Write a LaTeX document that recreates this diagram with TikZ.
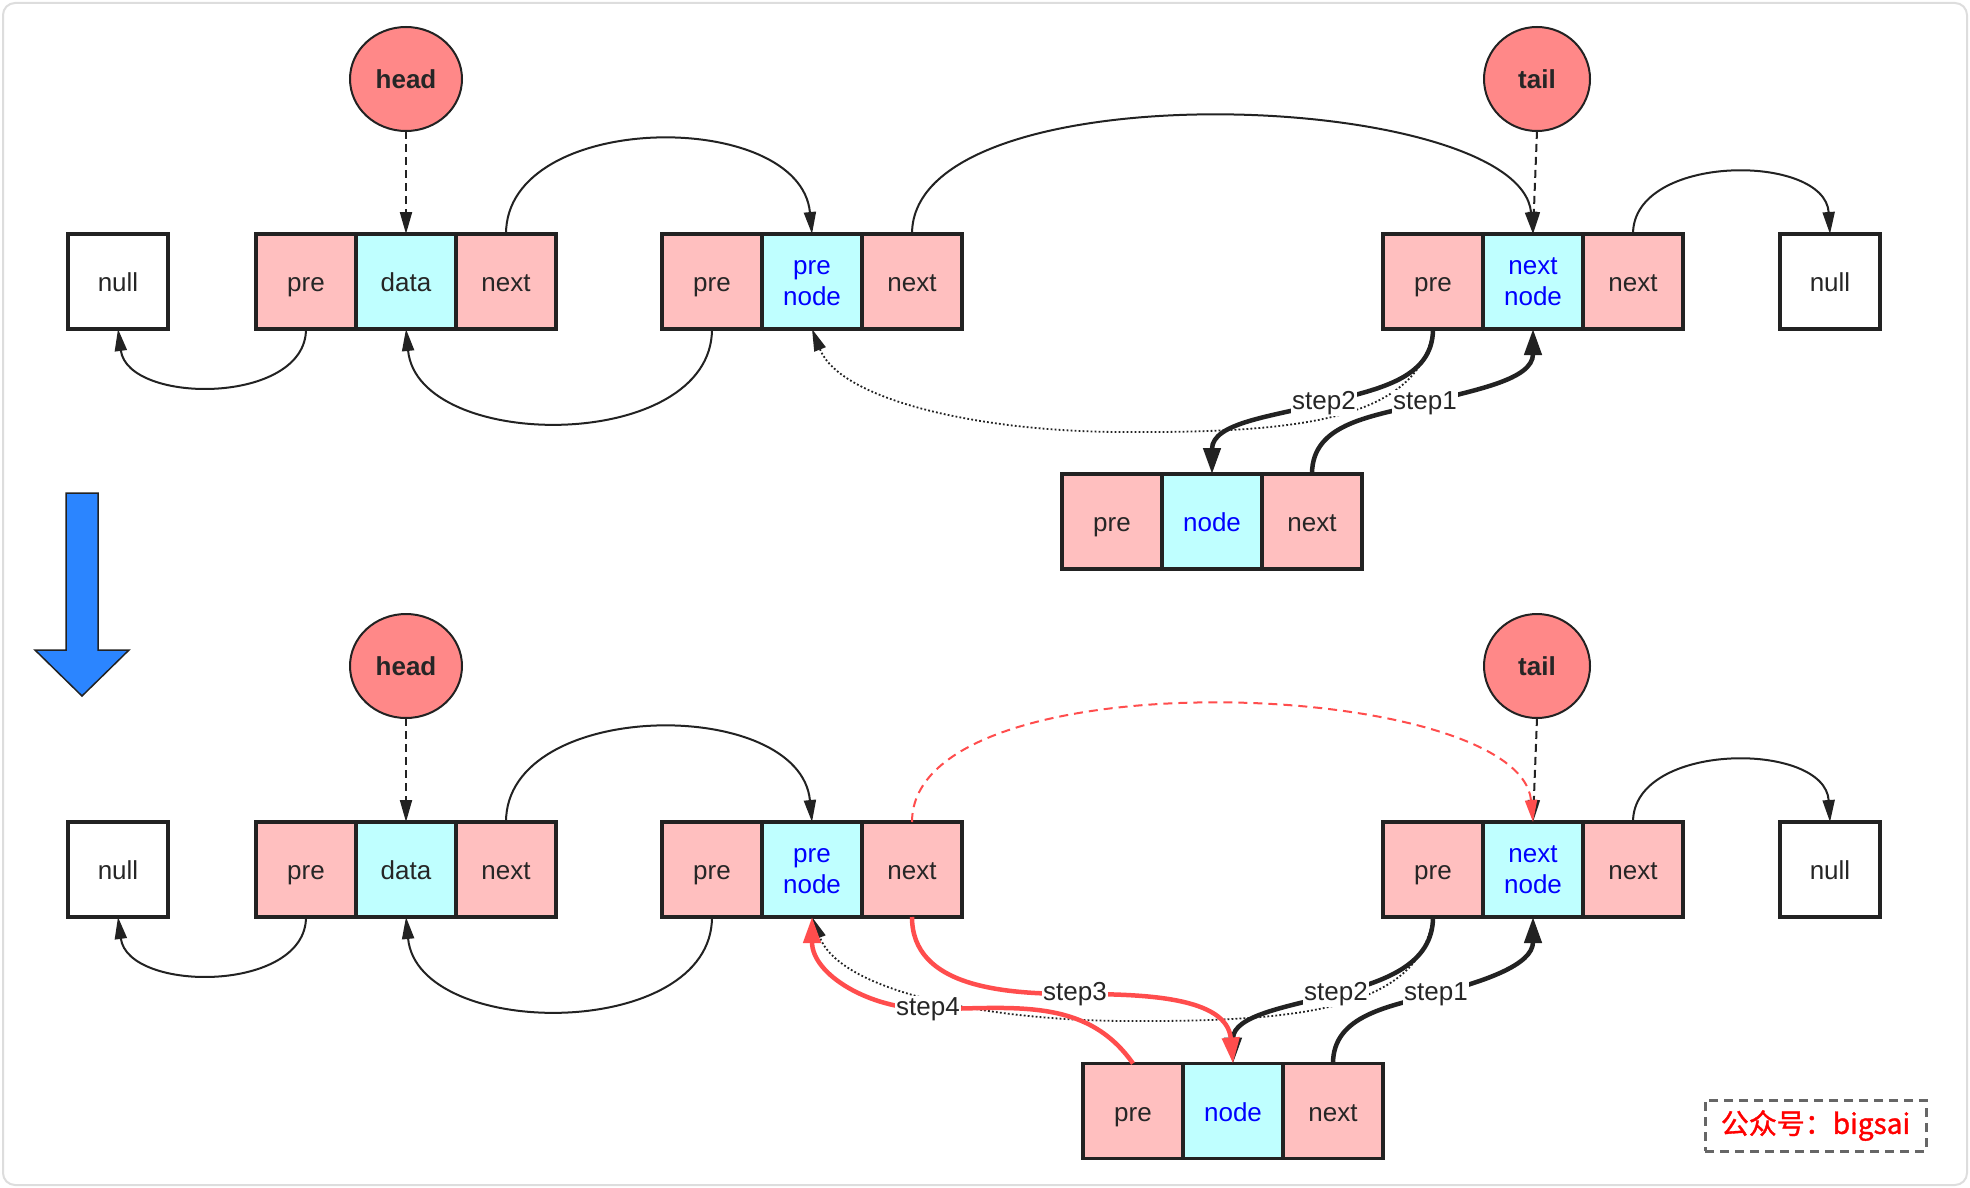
\documentclass[tikz,border=0pt]{standalone}
\usepackage{fontspec}
\setmainfont{Liberation Sans}
\newfontfamily\cjk[FakeBold=1.2]{Noto Sans CJK SC}
\usetikzlibrary{shapes.geometric,arrows.meta}
\newcommand\cellstrut{\rule[-9.3pt]{0pt}{39pt}}
\newcommand\cellstrutT{\rule[-9.3pt]{0pt}{66.3pt}}
\definecolor{cpink}{HTML}{FFBFBF}
\definecolor{ccyan}{HTML}{BFFFFF}
\definecolor{chead}{HTML}{FF8888}
\definecolor{cline}{HTML}{222222}
\definecolor{ctext}{HTML}{262626}
\definecolor{cred}{HTML}{FF4D4D}
\definecolor{cblue}{HTML}{2B85FF}
\definecolor{cframe}{HTML}{DDDDDD}
\definecolor{cwm}{HTML}{666666}
\tikzset{
 cell/.style={rectangle, draw=cline, line width=3.5pt, minimum width=100pt, minimum height=95pt, inner sep=0pt, outer sep=0pt, text=ctext, align=center, font=\fontsize{26}{31}\selectfont, execute at begin node=\cellstrut, execute at end node=\cellstrut},
 pcell/.style={cell, fill=cpink},
 dcell/.style={cell, fill=ccyan},
 bcell/.style={dcell, text=blue},
 tcell/.style={bcell, execute at begin node=\cellstrutT},
 nullcell/.style={cell, fill=white},
 ptr/.style={ellipse, draw=cline, line width=2pt, fill=chead, minimum width=112pt, minimum height=104pt, inner sep=0pt, outer sep=0pt, font=\fontsize{26}{31}\selectfont\bfseries, text=ctext},
 link/.style={draw=cline, line width=2pt, -{Triangle[length=22pt,width=12pt]}},
 ptrlink/.style={link, dash pattern=on 8pt off 5pt},
 oldlink/.style={link, line width=1.8pt, dash pattern=on 1.8pt off 2.2pt},
 steplink/.style={draw=cline, line width=4.5pt, -{Triangle[length=26pt,width=17pt]}},
 redlink/.style={steplink, draw=cred},
 reddash/.style={link, draw=cred, dash pattern=on 9pt off 6pt},
 steplbl/.style={fill=white, inner sep=1.5pt, text=ctext, font=\fontsize{26}{31}\selectfont},
 wmark/.style={draw=cwm, line width=3pt, dash pattern=on 9pt off 6pt, fill=white, minimum width=221pt, minimum height=51pt, inner sep=0pt, text=red, font=\fontsize{28}{32}\selectfont\cjk},
}
\begin{document}
\begin{tikzpicture}[x=1pt,y=1pt]
\useasboundingbox (0,0) rectangle (1970,-1188);
\draw[cframe, line width=2pt, rounded corners=12pt, fill=white] (3,-3) rectangle (1967,-1185);

% ---------- top row ----------
\node[nullcell] (n1) at (118,-281.5) {null};
\node[pcell] (a1p) at (306,-281.5) {pre};
\node[dcell] (a1d) at (406,-281.5) {data};
\node[pcell] (a1n) at (506,-281.5) {next};
\node[pcell] (b1p) at (712,-281.5) {pre};
\node[tcell] (b1d) at (812,-281.5) {pre\\node};
\node[pcell] (b1n) at (912,-281.5) {next};
\node[pcell] (c1p) at (1433,-281.5) {pre};
\node[tcell] (c1d) at (1533,-281.5) {next\\node};
\node[pcell] (c1n) at (1633,-281.5) {next};
\node[nullcell] (z1) at (1830,-281.5) {null};
\node[ptr] (h1) at (406,-79) {head};
\node[ptr, minimum width=106pt] (t1) at (1537,-79) {tail};
\node[pcell] (m1p) at (1112,-521.5) {pre};
\node[bcell] (m1d) at (1212,-521.5) {node};
\node[pcell] (m1n) at (1312,-521.5) {next};

\draw[ptrlink] (h1.south) -- (a1d.north);
\draw[ptrlink] (t1.south) -- (c1d.north);
\draw[link] (a1n.north) .. controls (506,-110) and (800,-108) .. (b1d.north);
\draw[link] (b1n.north) .. controls (912,-66) and (1520,-90) .. (c1d.north);
\draw[link] (c1n.north) .. controls (1633,-153) and (1825,-153) .. (z1.north);
\draw[link] (a1p.south) .. controls (306,-405) and (128,-405) .. (n1.south);
\draw[link] (b1p.south) .. controls (712,-453) and (418,-453) .. (a1d.south);
\draw[oldlink] (c1p.south) .. controls (1420,-420) and (1300,-433) .. (1124,-432) .. controls (980,-432) and (840,-400) .. (b1d.south);
\coordinate (s12) at (1324,-403);
\coordinate (s11) at (1425,-403);
\draw[steplink] (c1p.south) to[out=-90,in=15] (s12) to[out=195,in=90] (m1d.north);
\draw[steplink] (m1n.north) to[out=90,in=195] (s11) to[out=15,in=-90] (c1d.south);
\node[steplbl] (l12) at (s12) {step2};
\node[steplbl] (l11) at (s11) {step1};

% ---------- arrow ----------
\filldraw[fill=cblue, draw=cline, line width=1.5pt] (66,-493) -- (98,-493) -- (98,-650) -- (129,-650) -- (82,-696) -- (35,-650) -- (66,-650) -- cycle;

% ---------- bottom row ----------
\node[nullcell] (n2) at (118,-869.5) {null};
\node[pcell] (a2p) at (306,-869.5) {pre};
\node[dcell] (a2d) at (406,-869.5) {data};
\node[pcell] (a2n) at (506,-869.5) {next};
\node[pcell] (b2p) at (712,-869.5) {pre};
\node[tcell] (b2d) at (812,-869.5) {pre\\node};
\node[pcell] (b2n) at (912,-869.5) {next};
\node[pcell] (c2p) at (1433,-869.5) {pre};
\node[tcell] (c2d) at (1533,-869.5) {next\\node};
\node[pcell] (c2n) at (1633,-869.5) {next};
\node[nullcell] (z2) at (1830,-869.5) {null};
\node[ptr] (h2) at (406,-666) {head};
\node[ptr, minimum width=106pt] (t2) at (1537,-666) {tail};
\node[pcell] (m2p) at (1133,-1111) {pre};
\node[bcell] (m2d) at (1233,-1111) {node};
\node[pcell] (m2n) at (1333,-1111) {next};

\draw[ptrlink] (h2.south) -- (a2d.north);
\draw[ptrlink] (t2.south) -- (c2d.north);
\draw[link] (a2n.north) .. controls (506,-698) and (800,-696) .. (b2d.north);
\draw[reddash] (b2n.north) .. controls (912,-654) and (1520,-678) .. (c2d.north);
\draw[link] (c2n.north) .. controls (1633,-741) and (1825,-741) .. (z2.north);
\draw[link] (a2p.south) .. controls (306,-993) and (128,-993) .. (n2.south);
\draw[link] (b2p.south) .. controls (712,-1041) and (418,-1041) .. (a2d.south);
\draw[oldlink] (c2p.south) .. controls (1420,-1010) and (1300,-1022) .. (1124,-1021) .. controls (980,-1020) and (840,-990) .. (b2d.south);
\coordinate (s22) at (1336,-994);
\coordinate (s21) at (1436,-994);
\coordinate (s23) at (1075,-994);
\coordinate (s24) at (928,-1009);
\draw[steplink] (c2p.south) to[out=-90,in=15] (s22) to[out=195,in=90] (m2d.north);
\draw[steplink] (m2n.north) to[out=90,in=195] (s21) to[out=15,in=-90] (c2d.south);
\draw[redlink] (b2n.south) to[out=-90,in=180] (s23) to[out=0,in=95] (m2d.north);
\draw[redlink] (m2p.north) to[out=125,in=0] (s24) to[out=180,in=-90] (b2d.south);
\node[steplbl] (l22) at (s22) {step2};
\node[steplbl] (l21) at (s21) {step1};
\node[steplbl] (l23) at (s23) {step3};
\node[steplbl] (l24) at (s24) {step4};

% ---------- watermark ----------
\node[wmark] (wm) at (1815.5,-1125.5) {公众号：bigsai};
\end{tikzpicture}
\end{document}
